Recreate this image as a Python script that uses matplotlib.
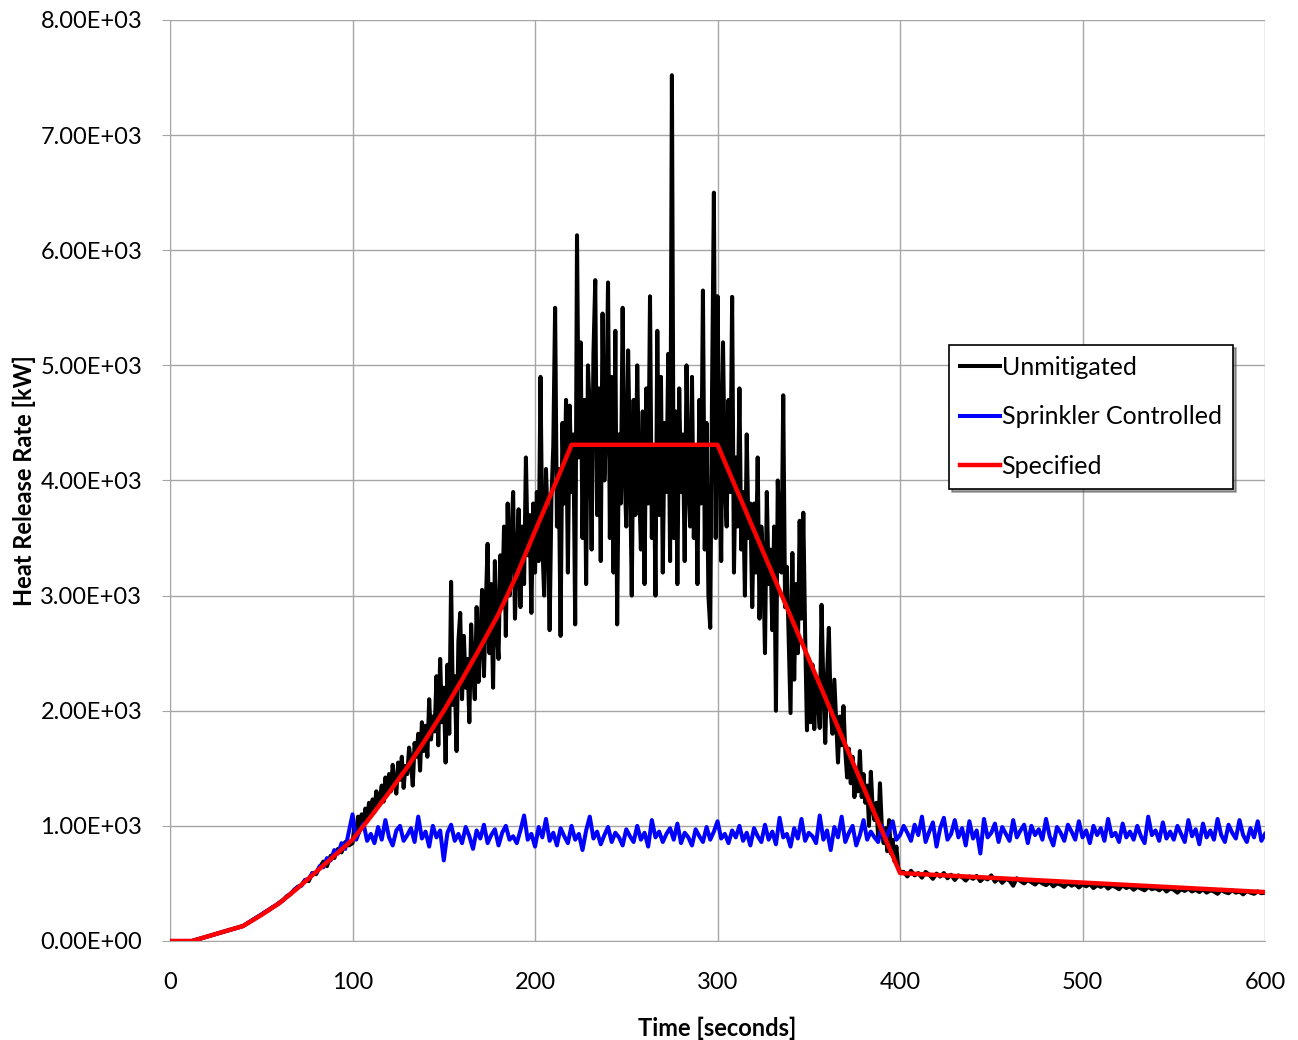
import numpy as np
import matplotlib
matplotlib.use("Agg")
import matplotlib.pyplot as plt
from matplotlib.ticker import FuncFormatter

plt.rcParams['font.family'] = ['Lato', 'DejaVu Sans']

# specified design fire curve (breakpoints)
spec_t = [0, 12, 20, 30, 40, 50, 60, 70, 80, 90, 100, 110, 120, 130, 140, 150,
          160, 170, 180, 190, 200, 210, 220, 300, 400, 600]
spec_q = [0, 0, 37, 84, 130, 225, 330, 460, 600, 740, 880, 1080, 1290, 1510, 1750, 2000,
          2270, 2550, 2840, 3180, 3560, 3930, 4310, 4310, 590, 425]

# unmitigated: 0-98 s every 2 s
unmit_early = [0, 0, 0, 0, 0, 0, 0, 9, 18, 28, 37, 46, 56, 65, 74, 84, 93, 102, 111, 121,
               130, 150, 170, 190, 210, 228, 250, 270, 292, 310, 335, 355, 390, 405, 445,
               470, 485, 530, 520, 590, 580, 640, 690, 650, 740, 720, 800, 770, 860, 830]
# unmitigated: 100-400 s every 1 s
unmit_mid = [
    850, 1000, 920, 1080, 960, 1100, 1010, 1150, 1040, 1200,
    1090, 1230, 1120, 1300, 1180, 1250, 1350, 1210, 1420, 1280,
    1450, 1300, 1530, 1360, 1280, 1550, 1400, 1600, 1330, 1520,
    1450, 1680, 1560, 1350, 1720, 1600, 1800, 1480, 1900, 1650,
    1870, 1600, 2100, 1750, 1950, 1820, 2300, 1700, 2450, 1900,
    2200, 1550, 2400, 1800, 3120, 2050, 2300, 1650, 2600, 2850,
    2100, 2650, 2200, 2450, 1900, 2750, 2350, 2100, 2900, 2250,
    2600, 3050, 2300, 2900, 3450, 2500, 3100, 2200, 3300, 2700,
    2450, 3350, 2900, 3600, 2650, 3800, 3000, 3500, 3900, 2800,
    3300, 3750, 2900, 3600, 3100, 4200, 3350, 3700, 2850, 3800,
    3200, 3900, 3300, 4900, 3450, 3000, 4100, 3600, 2700, 3850,
    4300, 5500, 3600, 4100, 2650, 4500, 3800, 4700, 3200, 4650,
    3900, 4400, 2750, 6130, 4200, 5200, 3500, 4700, 3100, 5000,
    4600, 3400, 5100, 5740, 3700, 4800, 3300, 5450, 4000, 4500,
    5720, 3500, 4900, 3200, 5300, 2750, 4400, 3800, 5500, 4100,
    3600, 5130, 4200, 3000, 4700, 3700, 5000, 4000, 3400, 4600,
    3100, 4800, 3800, 5600, 3500, 4300, 3000, 5300, 3700, 4900,
    3200, 4500, 3900, 5100, 3300, 7520, 3500, 4600, 3100, 4800,
    3900, 4400, 3300, 5000, 4000, 3600, 4900, 3500, 4300, 3100,
    4700, 3800, 5650, 3400, 4500, 3000, 2720, 4800, 6500, 3500,
    5600, 4300, 3300, 5200, 4000, 3600, 4700, 3900, 5595, 3200,
    4200, 3600, 4800, 3400, 3900, 3000, 4400, 3500, 3800, 2900,
    3800, 3200, 4200, 2800, 3600, 3300, 2500, 3900, 3100, 3400,
    2700, 3600, 2000, 4000, 3500, 3200, 4740, 2900, 3250, 2600,
    1980, 3370, 2270, 3100, 2500, 3650, 2800, 3720, 2670, 1830,
    2450, 1900, 2400, 1840, 2300, 2100, 1850, 2920, 2200, 1720,
    2300, 2720, 2000, 1800, 2270, 1900, 1550, 1950, 1700, 2040,
    1650, 1420, 1670, 1370, 1600, 1250, 1470, 1300, 1650, 1250,
    1450, 1200, 1350, 1000, 1470, 1150, 1050, 1200, 900, 1370,
    1000, 850, 980, 780, 1050, 760, 880, 690, 820, 640,
    600]
# unmitigated: 402-600 s every 2 s
unmit_late = [
    600, 560, 610, 570, 590, 550, 600, 575, 540, 585,
    560, 590, 545, 575, 530, 570, 555, 525, 560, 540,
    565, 520, 550, 535, 570, 515, 545, 505, 540, 525,
    480, 545, 520, 500, 530, 510, 490, 520, 500, 485,
    510, 475, 500, 490, 470, 505, 480, 495, 465, 490,
    475, 495, 460, 485, 470, 490, 455, 480, 470, 450,
    485, 460, 475, 445, 470, 455, 440, 470, 450, 460,
    440, 465, 430, 455, 445, 420, 450, 435, 455, 430,
    445, 425, 450, 420, 440, 430, 410, 445, 425, 415,
    440, 420, 430, 405, 435, 420, 410, 430, 415, 420]

# sprinkler controlled: 0-600 s every 2 s
sprk_q = [
    0, 0, 0, 0, 0, 0, 0, 9, 18, 28, 37, 46, 56, 65, 74, 84, 93, 102, 111, 121,
    130, 150, 170, 190, 210, 230, 250, 270, 290, 310, 330, 357, 384, 411, 438,
    470, 480, 530, 540, 590, 590, 650, 640, 720, 700,
    790, 760, 850, 800, 950, 1100, 880, 960, 1020, 870,
    930, 850, 990, 880, 1050, 900, 830, 960, 1000, 870,
    920, 980, 860, 1080, 890, 950, 820, 1000, 900, 960,
    700, 940, 1010, 870, 930, 850, 990, 910, 800, 960,
    890, 1010, 850, 920, 970, 830, 940, 1000, 880, 910,
    850, 960, 1090, 880, 930, 820, 990, 900, 1060, 870,
    940, 830, 980, 910, 850, 1000, 880, 930, 790, 960,
    1080, 890, 950, 840, 920, 990, 860, 940, 900, 830,
    970, 910, 860, 1000, 880, 940, 820, 1050, 900, 950,
    860, 930, 980, 880, 1020, 850, 940, 900, 830, 970,
    910, 860, 990, 880, 950, 1040, 890, 930, 850, 960,
    900, 1000, 870, 940, 830, 980, 910, 860, 1010, 880,
    950, 840, 1070, 900, 930, 820, 980, 890, 1060, 870,
    940, 910, 850, 1090, 880, 960, 790, 990, 900, 1080,
    860, 940, 1000, 830, 920, 1050, 880, 950, 900, 860,
    1000, 870, 960, 1040, 880, 920, 1000, 940, 870, 1010,
    920, 1080, 860, 950, 1030, 820, 980, 1070, 880, 930,
    1050, 900, 980, 830, 1040, 890, 960, 760, 1060, 900,
    940, 1020, 860, 990, 930, 870, 1050, 900, 960, 1010,
    850, 1000, 920, 970, 880, 1060, 910, 830, 990, 940,
    870, 1010, 950, 880, 1040, 900, 960, 850, 1000, 920,
    980, 870, 1060, 910, 940, 860, 1020, 900, 950, 880,
    1000, 910, 850, 1080, 920, 960, 870, 1030, 890, 950,
    880, 1000, 930, 860, 1050, 910, 970, 840, 1020, 900,
    960, 880, 1060, 920, 860, 1010, 940, 890, 1050, 920,
    860, 980, 900, 1040, 870, 930]

unmit_t = np.concatenate([np.arange(0, 100, 2), np.arange(100, 401, 1), np.arange(402, 601, 2)])
unmit_q = unmit_early + unmit_mid + unmit_late
sprk_t = np.arange(0, 601, 2)

fig = plt.figure(figsize=(12.98, 10.40), dpi=100)
ax = fig.add_axes([0.131, 0.0952, 0.8436, 0.8856])

ax.plot(unmit_t, unmit_q, color='black', lw=2.9, label='Unmitigated', zorder=3)
ax.plot(sprk_t, sprk_q, color='#0000ff', lw=2.9, label='Sprinkler Controlled', zorder=4)
ax.plot(spec_t, spec_q, color='#ff0000', lw=3.2, label='Specified', zorder=5)

ax.set_xlim(0, 600)
ax.set_ylim(0, 8000)
ax.set_xticks(np.arange(0, 601, 100))
ax.set_yticks(np.arange(0, 8001, 1000))
ax.yaxis.set_major_formatter(FuncFormatter(lambda v, p: '%.2E' % v))
ax.grid(True, color='#a6a6a6', lw=1.0)
ax.set_axisbelow(True)
for s in ['top', 'right']:
    ax.spines[s].set_visible(False)
for s in ['left', 'bottom']:
    ax.spines[s].set_color('#a6a6a6')
ax.tick_params(axis='both', labelsize=17, colors='#a6a6a6', labelcolor='black', length=6)
ax.tick_params(axis='x', length=0, pad=22)
ax.tick_params(axis='y', pad=14)

ax.set_xlabel('Time [seconds]', fontsize=17, fontweight='bold', labelpad=17)
ax.set_ylabel('Heat Release Rate [kW]', fontsize=17, fontweight='bold', labelpad=3)

leg = ax.legend(loc='center', bbox_to_anchor=(0.841, 0.569), fontsize=18, frameon=True,
                fancybox=False, shadow=True, edgecolor='black', framealpha=1,
                handlelength=1.6, handletextpad=0.05, labelspacing=1.05, borderpad=0.45,
                borderaxespad=0)
leg.get_frame().set_linewidth(1.2)

fig.savefig('out.png', dpi=100)
